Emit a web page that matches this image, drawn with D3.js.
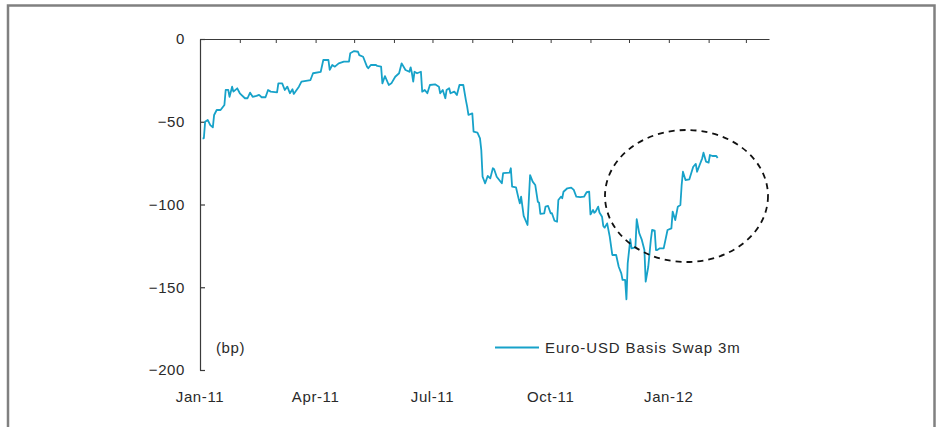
<!DOCTYPE html>
<html>
<head>
<meta charset="utf-8">
<script src="https://cdn.jsdelivr.net/npm/d3@7"></script>
<style>
  body { margin: 0; background: #fff; }
  svg text { font-family: "Liberation Sans", Arial, sans-serif; fill: #2a2a2a; }
</style>
</head>
<body>
<svg id="chart" width="938" height="427"></svg>
<script>
// Euro-USD basis swap 3m, daily-ish readings (bp)
const dates = [
  "2011-01-03","2011-01-04","2011-01-05","2011-01-07","2011-01-09","2011-01-11","2011-01-12","2011-01-14","2011-01-17","2011-01-20","2011-01-21","2011-01-23","2011-01-24","2011-01-26","2011-01-27","2011-01-30",
  "2011-02-01","2011-02-05","2011-02-07","2011-02-09","2011-02-11","2011-02-14","2011-02-16","2011-02-18","2011-02-21","2011-02-23","2011-02-25",
  "2011-03-02","2011-03-03","2011-03-06","2011-03-08","2011-03-10","2011-03-12","2011-03-14","2011-03-15","2011-03-19","2011-03-21","2011-03-28","2011-03-30",
  "2011-04-05","2011-04-07","2011-04-11","2011-04-12","2011-04-14","2011-04-16","2011-04-19","2011-04-23","2011-04-27","2011-04-28",
  "2011-05-01","2011-05-04","2011-05-05","2011-05-08","2011-05-11","2011-05-12","2011-05-14","2011-05-18","2011-05-19","2011-05-22","2011-05-23","2011-05-25","2011-05-28","2011-05-30",
  "2011-06-02","2011-06-05","2011-06-07","2011-06-10","2011-06-13","2011-06-14","2011-06-15","2011-06-16","2011-06-17","2011-06-19","2011-06-22","2011-06-23","2011-06-25","2011-06-27","2011-06-29",
  "2011-07-03","2011-07-06","2011-07-07","2011-07-09","2011-07-11","2011-07-12","2011-07-14","2011-07-15","2011-07-18","2011-07-20","2011-07-22","2011-07-25","2011-07-27","2011-07-28","2011-07-29",
  "2011-08-01","2011-08-02","2011-08-05","2011-08-07","2011-08-08","2011-08-09","2011-08-10","2011-08-11","2011-08-13","2011-08-15","2011-08-17","2011-08-18","2011-08-20","2011-08-22","2011-08-24","2011-08-25","2011-08-30","2011-08-31",
  "2011-09-01","2011-09-04","2011-09-06","2011-09-07","2011-09-08","2011-09-10","2011-09-13","2011-09-15","2011-09-17","2011-09-19","2011-09-21","2011-09-22","2011-09-23","2011-09-26","2011-09-27","2011-09-29",
  "2011-10-01","2011-10-02","2011-10-04","2011-10-06","2011-10-07","2011-10-09","2011-10-10","2011-10-11","2011-10-14","2011-10-17","2011-10-19","2011-10-21","2011-10-24","2011-10-27","2011-10-29","2011-10-31",
  "2011-11-01","2011-11-03","2011-11-04","2011-11-05","2011-11-07","2011-11-08","2011-11-10","2011-11-11","2011-11-12","2011-11-14","2011-11-16","2011-11-18","2011-11-21","2011-11-23","2011-11-25","2011-11-26","2011-11-28","2011-11-29","2011-11-30",
  "2011-12-02","2011-12-03","2011-12-06","2011-12-07","2011-12-09","2011-12-11","2011-12-13","2011-12-14","2011-12-16","2011-12-18","2011-12-19","2011-12-21","2011-12-22","2011-12-23","2011-12-25","2011-12-28","2011-12-31",
  "2012-01-03","2012-01-04","2012-01-06","2012-01-08","2012-01-10","2012-01-11","2012-01-12","2012-01-14","2012-01-17","2012-01-20","2012-01-22","2012-01-23","2012-01-25","2012-01-27","2012-01-28","2012-01-30",
  "2012-02-01","2012-02-02","2012-02-04","2012-02-07","2012-02-08"
];

const values = [
  -60,-60,-50,-48.9,-52,-53.4,-45.9,-42.9,-42.9,-39.9,-30.8,-30.8,-34.9,-28.8,-31.8,-29.8,
  -32.8,-35.8,-35.8,-32.4,-34.9,-34.4,-33.8,-35.2,-35.2,-30.8,-31.8,
  -32.2,-26.8,-26.8,-30.8,-28.8,-32.8,-30.4,-33.2,-28.8,-25.8,-24.8,-20.7,
  -19.8,-12.7,-12.7,-18.7,-15.7,-16.7,-14.7,-13.7,-13.7,-8.6,
  -7.3,-7.7,-9.7,-10.7,-16.7,-17.7,-15.7,-15.7,-16.3,-16.7,-26.8,-22.4,-27.8,-26.8,
  -22.8,-20.7,-14.7,-18.7,-19.8,-17.1,-20.7,-25.8,-19.8,-20.7,-19.8,-31.8,-30.8,-32.8,-27.8,
  -27.4,-28.8,-32.8,-30.8,-35.8,-30.8,-29.8,-32.8,-31.8,-33.8,-27.8,-27.8,-36.9,-40.9,-45.9,
  -44.9,-56.0,-56.6,-60.0,-67.1,-83.2,-85.2,-87.2,-82.8,-84.2,-78.1,-78.7,-83.2,-85.2,-87.2,-81.1,-80.8,-78.1,
  -89.2,-89.6,-96.3,-99.3,-95.3,-106.9,-112.4,-82.2,-86.2,-88.2,-98.3,-98.9,-105.7,-105.3,-101.3,-100.9,
  -105.3,-105.3,-109.8,-110.4,-97.3,-95.3,-96.2,-92.3,-90.2,-89.8,-91.2,-95.3,-95.6,-95.3,-92.6,-92.3,
  -106,-103.3,-105,-104.3,-101.3,-104.8,-107.4,-113,-114,-111.4,-119.4,-130.5,-130.5,-137.6,-141.6,-145.6,-145.6,-157.3,-135.5,
  -121.0,-126.5,-125.9,-108.9,-117.4,-121.4,-127.5,-146.6,-137.6,-121.4,-115.4,-115.8,-127.5,-127.5,-126.5,-126.5,-115.4,
  -114.4,-104.3,-109.4,-101.3,-100.3,-88.2,-80.2,-85.2,-84.8,-77.2,-75.5,-80.2,-76.1,-72.1,-68.7,-74.1,
  -74.7,-70.1,-70.7,-70.7,-71.9
];

const yTicks = [0, -50, -100, -150, -200];
const xLabelDates = ["2011-01-01", "2011-04-01", "2011-07-01", "2011-10-01", "2012-01-01"];
const seriesName = "Euro-USD Basis Swap 3m";
const unitLabel = "(bp)";

const parse = d3.timeParse("%Y-%m-%d");
const data = dates.map((d, i) => ({date: parse(d), value: values[i]}));

const svg = d3.select("#chart");
const lineColor = "#17a2c9";
const axisColor = "#3a3a3a";

// outer frame
svg.append("rect")
  .attr("x", 8).attr("y", 5.5)
  .attr("width", 926.5).attr("height", 440)
  .attr("fill", "none")
  .attr("stroke", "#808080")
  .attr("stroke-width", 2.5);

const x = d3.scaleTime()
  .domain([parse("2011-01-01"), parse("2012-03-19")])
  .range([200, 769]);

const y = d3.scaleLinear()
  .domain([-200, 0])
  .range([370, 39]);

// top axis: monthly ticks pointing down, no labels
const xAxis = d3.axisTop(x)
  .ticks(d3.timeMonth.every(1))
  .tickSizeInner(-4)
  .tickSizeOuter(0)
  .tickFormat("");

svg.append("g")
  .attr("transform", `translate(0,${y(0)})`)
  .call(xAxis)
  .call(g => g.select(".domain").attr("stroke", axisColor).attr("stroke-width", 1.2))
  .call(g => g.selectAll(".tick line").attr("stroke", axisColor));

// left axis with inward ticks
const yAxis = d3.axisLeft(y)
  .tickValues(yTicks)
  .tickSizeInner(-5)
  .tickSizeOuter(0)
  .tickPadding(15)
  .tickFormat(d => d === 0 ? "0" : "\u2212" + Math.abs(d));

svg.append("g")
  .attr("transform", `translate(${x.range()[0]},0)`)
  .call(yAxis)
  .call(g => g.select(".domain").attr("stroke", axisColor).attr("stroke-width", 1.2))
  .call(g => g.selectAll(".tick line").attr("stroke", axisColor).attr("stroke-width", 1.2))
  .call(g => g.selectAll(".tick text")
    .attr("font-size", 15)
    .attr("font-family", "Liberation Sans, Arial, sans-serif")
    .attr("fill", "#2a2a2a")
    .attr("letter-spacing", 0.6));

// quarterly date labels below the plot
const fmt = d3.timeFormat("%b-%y");
svg.append("g").selectAll("text")
  .data(xLabelDates)
  .join("text")
  .attr("x", d => x(parse(d)))
  .attr("y", 402)
  .attr("text-anchor", "middle")
  .attr("font-size", 15)
  .attr("letter-spacing", 0.6)
  .text(d => fmt(parse(d)));

// the series
const line = d3.line()
  .x(d => x(d.date))
  .y(d => y(d.value));

svg.append("path")
  .datum(data)
  .attr("fill", "none")
  .attr("stroke", lineColor)
  .attr("stroke-width", 1.8)
  .attr("stroke-linejoin", "round")
  .attr("d", line);

// dashed ellipse annotation
svg.append("ellipse")
  .attr("cx", 686.5).attr("cy", 196)
  .attr("rx", 81.5).attr("ry", 66)
  .attr("fill", "none")
  .attr("stroke", "#111")
  .attr("stroke-width", 1.8)
  .attr("stroke-dasharray", "6,5");

// unit label
svg.append("text")
  .attr("x", 216).attr("y", 353)
  .attr("font-size", 15)
  .attr("letter-spacing", 0.6)
  .text(unitLabel);

// legend
svg.append("line")
  .attr("x1", 495).attr("x2", 539)
  .attr("y1", 347.5).attr("y2", 347.5)
  .attr("stroke", lineColor)
  .attr("stroke-width", 1.8);

svg.append("text")
  .attr("x", 545).attr("y", 353)
  .attr("font-size", 15)
  .attr("letter-spacing", 0.9)
  .text(seriesName);
</script>
</body>
</html>
